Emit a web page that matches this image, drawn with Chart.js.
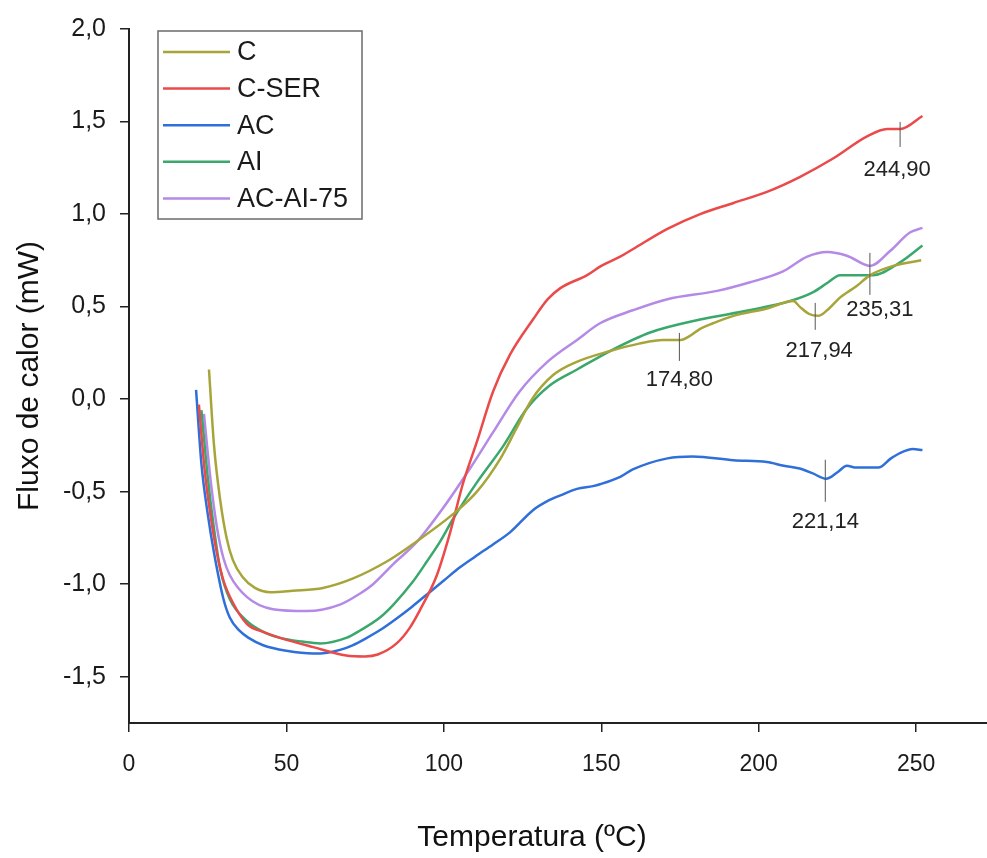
<!DOCTYPE html>
<html>
<head>
<meta charset="utf-8">
<script src="https://cdn.jsdelivr.net/npm/chart.js@4.4.0/dist/chart.umd.min.js"></script>
<style>
  html, body { margin: 0; padding: 0; background: #fff; }
</style>
</head>
<body>
<canvas id="dsc" width="987" height="858"></canvas>
<script>
// curves: [temperature (ºC), heat flow (mW)]
const serieC = [
  [25.4, 0.16], [27, -0.25], [29, -0.55], [31, -0.75], [33, -0.87], [36, -0.96],
  [40, -1.02], [44.8, -1.043], [52, -1.035], [61.6, -1.02], [71, -0.97], [82, -0.876],
  [90, -0.785], [103, -0.62], [110.5, -0.50], [118, -0.32], [123, -0.16], [128, 0.0],
  [134.7, 0.13], [142, 0.2], [152.8, 0.26], [162, 0.30], [169.6, 0.32], [175.3, 0.32],
  [178, 0.34], [181.4, 0.38], [185.5, 0.41], [192, 0.45], [202.6, 0.49], [211, 0.53],
  [213, 0.50], [216, 0.46], [218.9, 0.45], [221.7, 0.48], [225.9, 0.55], [231, 0.61],
  [235.4, 0.67], [242.7, 0.72], [251.6, 0.75]
];
const serieCSER = [
  [22.2, -0.03], [24, -0.38], [26, -0.64], [28, -0.84], [30, -0.98], [33, -1.1],
  [37.5, -1.215], [43, -1.26], [48, -1.29], [58.5, -1.34], [69, -1.385], [75, -1.39],
  [79, -1.38], [85, -1.32], [89, -1.24], [92.4, -1.14], [97.8, -0.95], [102, -0.72],
  [106, -0.46], [110.5, -0.23], [115.6, 0.04], [121, 0.24], [128.3, 0.43], [133, 0.54],
  [137, 0.60], [145.5, 0.67], [150, 0.72], [156, 0.77], [160, 0.81], [171, 0.92],
  [181.4, 1.0], [192, 1.06], [202.6, 1.12], [213, 1.2], [223.6, 1.3], [234.4, 1.42],
  [240.8, 1.46], [245, 1.46], [252, 1.53]
];
const serieAC = [
  [21.3, 0.05], [23, -0.35], [25, -0.62], [27, -0.83], [30, -1.08], [32, -1.18],
  [35, -1.25], [38, -1.29], [42.6, -1.33], [50, -1.36], [58.5, -1.375], [63, -1.37],
  [67, -1.355], [71, -1.33], [75, -1.295], [80, -1.245], [85, -1.185], [90, -1.12],
  [95, -1.05], [100, -0.98], [105, -0.91], [110, -0.85], [115.6, -0.785], [121, -0.72],
  [128.3, -0.6], [133, -0.55], [137, -0.52], [142.3, -0.485], [147.4, -0.47], [149.6, -0.46],
  [156, -0.42], [160, -0.38], [171, -0.32], [179, -0.31], [192, -0.33], [202.6, -0.34],
  [208, -0.36], [213, -0.375], [217, -0.4], [221.4, -0.43], [225, -0.395], [228, -0.36],
  [231, -0.37], [235, -0.37], [238, -0.37], [242, -0.32], [245, -0.29], [249, -0.27],
  [252, -0.275]
];
const serieAI = [
  [23, -0.06], [25, -0.42], [27, -0.7], [29, -0.92], [32, -1.08], [37.5, -1.2],
  [43, -1.26], [48, -1.29], [55, -1.31], [60.7, -1.32], [69, -1.29], [73.4, -1.25],
  [79.7, -1.18], [84, -1.11], [90, -0.99], [94.7, -0.875], [98.8, -0.77], [103, -0.645],
  [110.5, -0.45], [119, -0.25], [126.4, -0.05], [133.7, 0.075], [142.3, 0.16], [152.8, 0.26],
  [165.5, 0.36], [181.4, 0.43], [197, 0.48], [210, 0.53], [217, 0.575], [222, 0.63],
  [225.8, 0.67], [232, 0.67], [236.3, 0.67], [245, 0.74], [252, 0.83]
];
const serieACAI75 = [
  [23.8, -0.08], [26, -0.45], [28, -0.7], [30, -0.86], [32, -0.95], [37.5, -1.07],
  [45.7, -1.135], [56.5, -1.145], [67, -1.11], [73.4, -1.05], [77.5, -1.0], [84, -0.89],
  [91.5, -0.77], [99.7, -0.59], [108.3, -0.375], [115.6, -0.18], [124, 0.04], [132.8, 0.2],
  [142.3, 0.32], [149.6, 0.41], [160, 0.48], [171, 0.54], [186.8, 0.585], [197, 0.63],
  [207.7, 0.69], [215.4, 0.77], [221.7, 0.795], [228, 0.775], [235.4, 0.72], [241.7, 0.8],
  [248, 0.9], [252, 0.925]
];

const seriesNames = ["C", "C-SER", "AC", "AI", "AC-AI-75"];

// peak markers
const markerTemps = [174.80, 217.94, 235.31, 244.90, 221.14];
const markerFlux = [0.32, 0.45, 0.72, 1.46, -0.43];
const markerLabels = ["174,80", "217,94", "235,31", "244,90", "221,14"];

const xTicks = [0, 50, 100, 150, 200, 250];
const yTicks = [-1.5, -1.0, -0.5, 0.0, 0.5, 1.0, 1.5, 2.0];

const colors = ["#a7a53a", "#ea4a4a", "#2f6fd9", "#3aa86c", "#b48ae6"];
const fontFam = "'Liberation Sans', Arial, sans-serif";

function toPoints(arr) {
  return arr.map(function(p) { return { x: p[0], y: p[1] }; });
}

function commaFmt(v) {
  return v.toFixed(1).replace(".", ",");
}

// legend in a box inside the plot
const boxLegend = {
  id: "boxLegend",
  afterDatasetsDraw: function(chart) {
    const ctx = chart.ctx;
    const ca = chart.chartArea;
    const x0 = ca.left + 29, y0 = ca.top + 2;
    const w = 204, h = 188;
    ctx.save();
    ctx.fillStyle = "#fff";
    ctx.fillRect(x0, y0, w, h);
    ctx.strokeStyle = "#6b6b6b";
    ctx.lineWidth = 1.5;
    ctx.strokeRect(x0, y0, w, h);
    ctx.font = "27px " + fontFam;
    ctx.textBaseline = "middle";
    chart.data.datasets.forEach(function(ds, i) {
      const yy = y0 + 21 + i * 36.6;
      ctx.strokeStyle = ds.borderColor;
      ctx.lineWidth = 2.5;
      ctx.beginPath();
      ctx.moveTo(x0 + 5, yy);
      ctx.lineTo(x0 + 72, yy);
      ctx.stroke();
      ctx.fillStyle = "#1a1a1a";
      ctx.fillText(ds.label, x0 + 79, yy + 1);
    });
    ctx.restore();
  }
};

// vertical tick + value under each peak
const peakMarks = {
  id: "peakMarks",
  afterDatasetsDraw: function(chart, args, opts) {
    const ctx = chart.ctx;
    const xs = chart.scales.x, ys = chart.scales.y;
    ctx.save();
    ctx.font = "22px " + fontFam;
    ctx.textAlign = "center";
    ctx.textBaseline = "middle";
    markerTemps.forEach(function(t, i) {
      const st = opts.style[i];
      const px = xs.getPixelForValue(t);
      const py = ys.getPixelForValue(markerFlux[i]);
      ctx.strokeStyle = "#555";
      ctx.lineWidth = 1;
      ctx.beginPath();
      ctx.moveTo(px, py - st.up);
      ctx.lineTo(px, py + st.down);
      ctx.stroke();
      ctx.fillStyle = "#222";
      ctx.fillText(markerLabels[i], px + st.dx, py + st.dy);
    });
    ctx.restore();
  }
};

// x axis title (the original figure is cropped on the right)
const xTitle = {
  id: "xTitle",
  afterDraw: function(chart) {
    const ctx = chart.ctx;
    const xs = chart.scales.x;
    ctx.save();
    ctx.font = "30px " + fontFam;
    ctx.fillStyle = "#111";
    ctx.textAlign = "center";
    ctx.textBaseline = "middle";
    ctx.fillText("Temperatura (ºC)", xs.getPixelForValue(128), 838);
    ctx.restore();
  }
};

const allSeries = [serieC, serieCSER, serieAC, serieAI, serieACAI75];

new Chart(document.getElementById("dsc"), {
  type: "line",
  data: {
    datasets: allSeries.map(function(s, i) {
      return {
        label: seriesNames[i],
        data: toPoints(s),
        borderColor: colors[i],
        borderWidth: 2.5,
        pointRadius: 0,
        fill: false,
        cubicInterpolationMode: "monotone"
      };
    })
  },
  options: {
    responsive: false,
    animation: false,
    layout: { padding: { top: 25, right: 0, left: 0, bottom: 0 } },
    plugins: {
      legend: { display: false },
      tooltip: { enabled: false },
      peakMarks: {
        style: [
          { up: 7, down: 21, dy: 40, dx: 0 },
          { up: 13, down: 14, dy: 35, dx: 4 },
          { up: 13, down: 29, dy: 44, dx: 10 },
          { up: 7, down: 18, dy: 41, dx: -3 },
          { up: 19, down: 23, dy: 43, dx: 0 }
        ]
      }
    },
    scales: {
      x: {
        type: "linear",
        min: 0,
        max: 272.5,
        afterBuildTicks: function(scale) {
          scale.ticks = xTicks.map(function(v) { return { value: v }; });
        },
        afterFit: function(scale) { scale.height = 135; },
        grid: { drawOnChartArea: false, tickLength: 9, color: "#222", lineWidth: 1.5 },
        border: { color: "#222", width: 2 },
        ticks: {
          padding: 19,
          color: "#1a1a1a",
          font: { family: fontFam, size: 23 },
          maxRotation: 0
        }
      },
      y: {
        min: -1.75,
        max: 2.0,
        afterBuildTicks: function(scale) {
          scale.ticks = yTicks.map(function(v) { return { value: v }; });
        },
        afterFit: function(scale) { scale.width = 129; },
        grid: { drawOnChartArea: false, tickLength: 9, color: "#222", lineWidth: 1.5 },
        border: { color: "#222", width: 2 },
        ticks: {
          padding: 14,
          color: "#1a1a1a",
          font: { family: fontFam, size: 25 },
          callback: function(v) { return commaFmt(v); }
        },
        title: {
          display: true,
          text: "Fluxo de calor (mW)",
          color: "#111",
          font: { family: fontFam, size: 30 },
          padding: { top: 12, bottom: 0 }
        }
      }
    }
  },
  plugins: [boxLegend, peakMarks, xTitle]
});
</script>
</body>
</html>
